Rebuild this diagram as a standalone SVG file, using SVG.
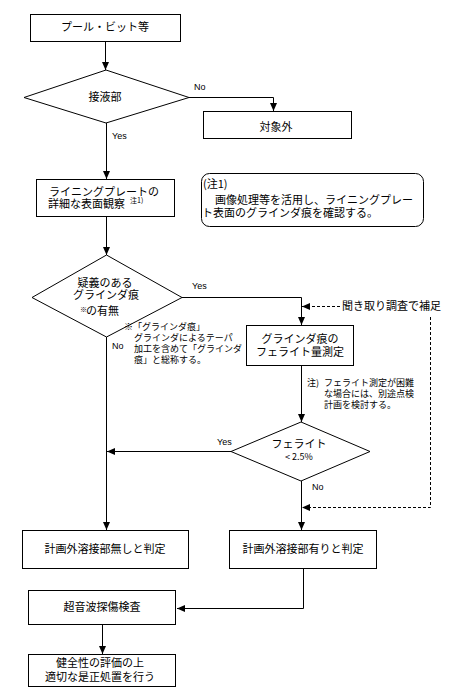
<svg xmlns="http://www.w3.org/2000/svg" width="472" height="699" viewBox="0 0 472 699">
<style>
.b{fill:#fff;stroke:#000;stroke-width:1}
.l{fill:none;stroke:#000;stroke-width:1}
.d{fill:none;stroke:#000;stroke-width:1;stroke-dasharray:3,2}
text{font-family:"Noto Sans CJK JP","DejaVu Sans",sans-serif;fill:#000}
.t{font-size:11px;text-anchor:middle}
.s{font-size:9px}
.y{font-family:"Liberation Sans",sans-serif;font-size:9px}
</style>
<defs>
<marker id="a" viewBox="0 0 8 8" refX="8" refY="4" markerWidth="8" markerHeight="8" markerUnits="userSpaceOnUse" orient="auto">
<path d="M0,0.5 L8,4 L0,7.5 z" fill="#000"/>
</marker>
</defs>
<rect width="472" height="699" fill="#fff"/>
<g id="connectors">
<path class="l" d="M105.5,41 V70" marker-end="url(#a)"/>
<path class="l" d="M189,97.5 H273.5 V111" marker-end="url(#a)"/>
<path class="l" d="M106.5,123 V179" marker-end="url(#a)"/>
<path class="l" d="M106.5,217 V255" marker-end="url(#a)"/>
<path class="l" d="M182,297.5 H301.5 V325" marker-end="url(#a)"/>
<path class="l" d="M106.5,337 V530" marker-end="url(#a)"/>
<path class="l" d="M301.5,366 V422" marker-end="url(#a)"/>
<path class="l" d="M231,451.5 H107" marker-end="url(#a)"/>
<path class="l" d="M301.5,481 V530" marker-end="url(#a)"/>
<path class="l" d="M303.5,569 V608.5 H177" marker-end="url(#a)"/>
<path class="l" d="M102.5,625 V654" marker-end="url(#a)"/>
<path class="d" d="M340,306.5 H302" marker-end="url(#a)"/>
<path class="d" d="M430.5,317 V507.5 H302" marker-end="url(#a)"/>
<text class="y" x="112" y="139">Yes</text>
<text class="y" x="194" y="90">No</text>
<text class="y" x="192" y="289">Yes</text>
<text class="y" x="112" y="349">No</text>
<text class="y" x="217" y="445">Yes</text>
<text class="y" x="312" y="490">No</text>
</g>
<g id="n1">
<rect class="b" x="30.5" y="14.5" width="150" height="27"/>
<text class="t" x="105" y="31">プール・ビット等</text>
</g>
<g id="n2">
<polygon class="b" points="106,70 189,97.5 106,123 24,97.5"/>
<text class="t" x="105" y="101">接液部</text>
</g>
<g id="n3">
<rect class="b" x="203.5" y="111.5" width="148" height="27"/>
<text class="t" x="276" y="131">対象外</text>
</g>
<g id="n4">
<rect class="b" x="36.5" y="179.5" width="138" height="37"/>
<text class="t" x="104" y="196">ライニングプレートの</text>
<text x="48" y="208" font-size="11">詳細な表面観察</text>
<text x="130" y="203" font-size="7">注1)</text>
</g>
<g id="note1">
<rect class="b" x="201.5" y="173.5" width="222" height="53" rx="8"/>
<text x="203" y="188" font-size="11">(注1)</text>
<text x="204" y="204" font-size="11">　画像処理等を活用し、ライニングプレー</text>
<text x="202" y="217" font-size="11">ト表面のグラインダ痕を確認する。</text>
</g>
<g id="n5">
<polygon class="b" points="106.5,255 182,297.5 106.5,337 32,297.5"/>
<text class="t" x="105" y="287">疑義のある</text>
<text class="t" x="106" y="299">グラインダ痕</text>
<text x="80" y="312" font-size="7">※</text>
<text x="86" y="315" font-size="11">の有無</text>
</g>
<g id="note2">
<text class="s" x="124" y="330">※「グラインダ痕」</text>
<text class="s" x="134" y="341">グラインダによるテーパ</text>
<text class="s" x="134" y="352">加工を含めて「グラインダ</text>
<text class="s" x="134" y="363">痕」と総称する。</text>
</g>
<g id="n6">
<rect class="b" x="246.5" y="325.5" width="107" height="40"/>
<text class="t" x="300" y="343">グラインダ痕の</text>
<text class="t" x="300" y="356">フェライト量測定</text>
</g>
<g id="note3">
<text class="s" x="307" y="386">注)</text>
<text class="s" x="324" y="386">フェライト測定が困難</text>
<text class="s" x="324" y="397">な場合には、別途点検</text>
<text class="s" x="324" y="408">計画を検討する。</text>
</g>
<g id="hearing">
<text x="342" y="310" font-size="11">聞き取り調査で補足</text>
</g>
<g id="n7">
<polygon class="b" points="301,422 370,451.5 301,481 231,451.5"/>
<text class="t" x="299" y="448">フェライト</text>
<text x="299" y="460" font-size="9" text-anchor="middle" font-family="Liberation Sans, sans-serif">&lt; 2.5%</text>
</g>
<g id="n8">
<rect class="b" x="22.5" y="530.5" width="166" height="38"/>
<text class="t" x="105" y="553">計画外溶接部無しと判定</text>
</g>
<g id="n9">
<rect class="b" x="229.5" y="530.5" width="147" height="38"/>
<text class="t" x="303" y="553">計画外溶接部有りと判定</text>
</g>
<g id="n10">
<rect class="b" x="28.5" y="590.5" width="147" height="34"/>
<text class="t" x="102" y="611">超音波探傷検査</text>
</g>
<g id="n11">
<rect class="b" x="28.5" y="654.5" width="147" height="32"/>
<text class="t" x="100" y="667">健全性の評価の上</text>
<text class="t" x="100" y="681">適切な是正処置を行う</text>
</g>
</svg>
